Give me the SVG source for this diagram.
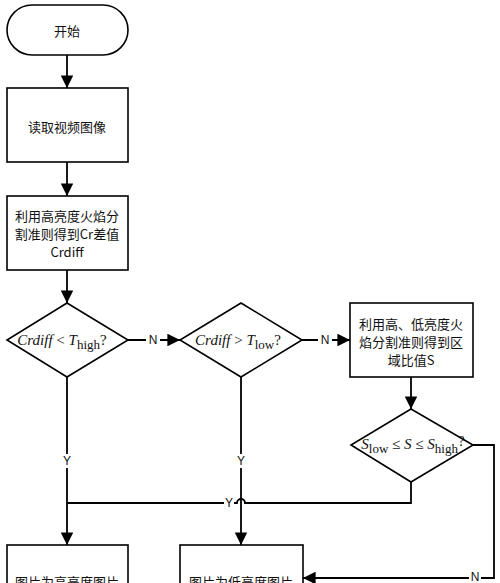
<svg xmlns="http://www.w3.org/2000/svg" width="500" height="583" viewBox="0 0 500 583">
<style>
.n{fill:#fff;stroke:#000;stroke-width:1.6}
.c{fill:none;stroke:#000;stroke-width:1.8}
.t{font-family:"Noto Sans CJK SC","Liberation Sans",sans-serif;font-size:13px;fill:#111;text-anchor:middle;dominant-baseline:central}
.m{font-family:"Liberation Serif",serif;font-size:15px;fill:#111;text-anchor:middle;dominant-baseline:central}
.l{font-family:"Liberation Sans",sans-serif;font-size:12px;fill:#111;text-anchor:middle;dominant-baseline:central}
</style>
<defs>
<marker id="a" viewBox="0 0 10 10" refX="10" refY="5" markerWidth="7" markerHeight="7" markerUnits="strokeWidth" orient="auto">
<path d="M0,0L10,5L0,10Z" fill="#000"/>
</marker>
</defs>
<rect width="500" height="583" fill="#fff"/>
<g id="connectors">
<path class="c" d="M67,55V88" marker-end="url(#a)"/>
<path class="c" d="M67,162V196" marker-end="url(#a)"/>
<path class="c" d="M67,270V303" marker-end="url(#a)"/>
<path class="c" d="M128,340H146M160,340H180" marker-end="url(#a)"/>
<path class="c" d="M302,340H318M332,340H350" marker-end="url(#a)"/>
<path class="c" d="M411,377V409" marker-end="url(#a)"/>
<path class="c" d="M67,377V454M67,468V545" marker-end="url(#a)"/>
<path class="c" d="M241,377V454M241,468V545" marker-end="url(#a)"/>
<path class="c" d="M411,482V503H245A4,4 0 0 0 237,503H234M224,503H67"/>
<path class="c" d="M473,445H494V578H481M469,578H303" marker-end="url(#a)"/>
<text class="l" x="153" y="340">N</text>
<text class="l" x="325" y="340">N</text>
<text class="l" x="67" y="461">Y</text>
<text class="l" x="241" y="461">Y</text>
<text class="l" x="229" y="503">Y</text>
<text class="l" x="475" y="577">N</text>
</g>
<g id="start">
<rect class="n" x="7" y="5" width="121" height="50" rx="25"/>
<text class="t" x="67" y="30">开始</text>
</g>
<g id="read">
<rect class="n" x="7" y="88" width="121" height="74"/>
<text class="t" x="67" y="126">读取视频图像</text>
</g>
<g id="crdiff">
<rect class="n" x="7" y="196" width="121" height="74"/>
<text class="t" x="67" y="215">利用高亮度火焰分</text>
<text class="t" x="67" y="233">割准则得到Cr差值</text>
<text class="t" x="67" y="251">Crdiff</text>
</g>
<g id="d1">
<path class="n" d="M67,303L128,340L67,377L7,340Z"/>
<text class="m" x="62" y="340"><tspan font-style="italic">Crdiff</tspan> &lt; <tspan font-style="italic">T</tspan><tspan font-size="13" dy="4">high</tspan><tspan dy="-4">?</tspan></text>
</g>
<g id="d2">
<path class="n" d="M241,303L302,340L241,377L180,340Z"/>
<text class="m" x="238" y="340"><tspan font-style="italic">Crdiff</tspan> &gt; <tspan font-style="italic">T</tspan><tspan font-size="13" dy="4">low</tspan><tspan dy="-4">?</tspan></text>
</g>
<g id="ratio">
<rect class="n" x="350" y="303" width="123" height="74"/>
<text class="t" x="411" y="323">利用高、低亮度火</text>
<text class="t" x="411" y="341">焰分割准则得到区</text>
<text class="t" x="411" y="359">域比值S</text>
</g>
<g id="d3">
<path class="n" d="M411,409L473,445L411,482L351,445Z"/>
<text class="m" x="413" y="444"><tspan font-style="italic">S</tspan><tspan font-size="13" dy="4">low</tspan><tspan dy="-4"> ≤ </tspan><tspan font-style="italic">S</tspan> ≤ <tspan font-style="italic">S</tspan><tspan font-size="13" dy="4">high</tspan><tspan dy="-7">?</tspan></text>
</g>
<g id="high">
<rect class="n" x="7" y="545" width="121" height="60"/>
<text class="t" x="67" y="581">图片为高亮度图片</text>
</g>
<g id="low">
<rect class="n" x="180" y="545" width="123" height="60"/>
<text class="t" x="241" y="581">图片为低亮度图片</text>
</g>
</svg>
